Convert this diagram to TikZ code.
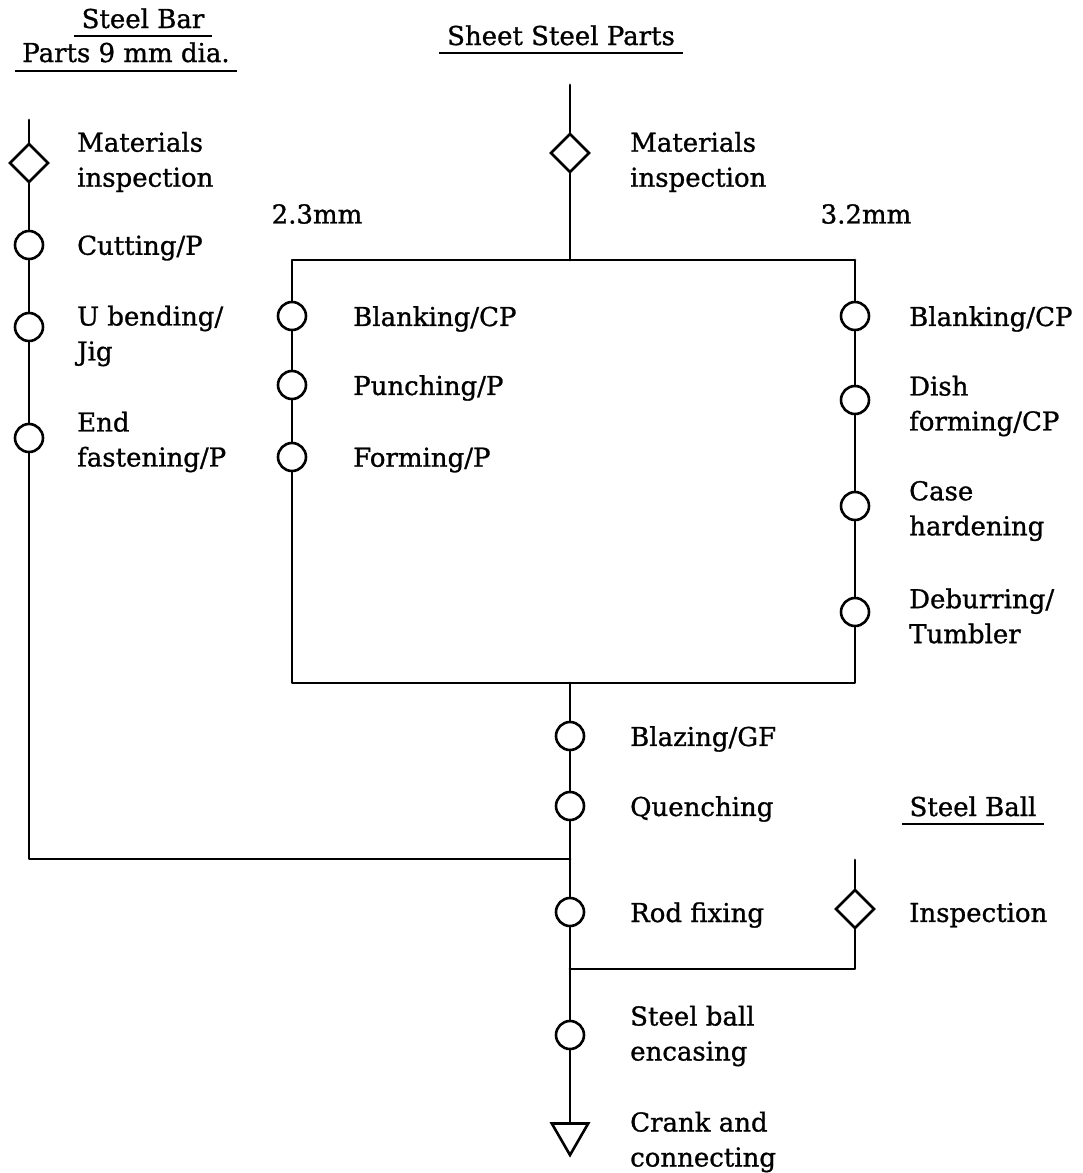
\documentclass[tikz,border=0pt]{standalone}
\usepackage{fontspec}
\setmainfont[FakeBold=1]{DejaVu Serif}
\usetikzlibrary{shapes.geometric}
\begin{document}
\begin{tikzpicture}[x=1pt,y=-1pt,
  every node/.style={font=\fontsize{26}{35}\selectfont},
  flow/.style={line width=2.8pt,line cap=round,line join=round},
  op/.style={circle,draw,line width=2.6pt,minimum size=28pt,inner sep=0pt,fill=white},
  insp/.style={diamond,draw,line width=2.6pt,minimum width=39pt,minimum height=39pt,inner sep=0pt,fill=white},
  store/.style={regular polygon,regular polygon sides=3,shape border rotate=180,draw,line width=2.6pt,minimum size=42pt,inner sep=0pt,fill=white},
  lbl/.style={anchor=west,align=left,inner sep=0pt},
  hdr/.style={anchor=base,inner sep=0pt},
  rule/.style={line width=2.2pt}]
\useasboundingbox (0,0) rectangle (1083,1173);

% headings
\node[hdr] (hbar) at (143,28) {Steel Bar};
\node[hdr] (hbar2) at (126,62) {Parts 9 mm dia.};
\node[hdr] (hsheet) at (561,45) {Sheet Steel Parts};
\node[hdr] (hball) at (973,816) {Steel Ball};
\draw[rule] ([shift={(-7,8)}]hbar.base west) -- ([shift={(7,8)}]hbar.base east);
\draw[rule] ([shift={(-7,9)}]hbar2.base west) -- ([shift={(7,9)}]hbar2.base east);
\draw[rule] ([shift={(-8,8)}]hsheet.base west) -- ([shift={(8,8)}]hsheet.base east);
\draw[rule] ([shift={(-7,8)}]hball.base west) -- ([shift={(7,8)}]hball.base east);

% steel bar line
\coordinate (Ltop) at (29,120);
\node[insp] (Lmi) at (29,163) {};
\node[op] (Lcut) at (29,245) {};
\node[op] (Lub) at (29,327) {};
\node[op] (Lef) at (29,438) {};
\coordinate (Lbot) at (29,859);

% sheet steel line
\coordinate (Mtop) at (570,85);
\node[insp] (Mmi) at (570,153) {};
\coordinate (Mjoin) at (570,260);
\coordinate (BL) at (292,260);
\coordinate (BR) at (855,260);
\coordinate (BLb) at (292,683);
\coordinate (BRb) at (855,683);
\coordinate (Mout) at (570,683);
\node[op] (A1) at (292,316) {};
\node[op] (A2) at (292,385) {};
\node[op] (A3) at (292,457) {};
\node[op] (R1) at (855,316) {};
\node[op] (R2) at (855,400) {};
\node[op] (R3) at (855,506) {};
\node[op] (R4) at (855,612) {};

% assembly line
\node[op] (Blaz) at (570,736) {};
\node[op] (Quen) at (570,806) {};
\coordinate (J1) at (570,859);
\node[op] (Rod) at (570,912) {};
\coordinate (J2) at (570,969);
\node[op] (Enc) at (570,1035) {};
\node[store] (Tri) at (570,1134) {};

% steel ball line
\coordinate (Btop) at (855,860);
\node[insp] (Bmi) at (855,909) {};
\coordinate (Bcorner) at (855,969);

% connectors
\draw[flow] (Ltop) -- (Lmi) -- (Lcut) -- (Lub) -- (Lef) -- (Lbot) -- (J1);
\draw[flow] (Mtop) -- (Mmi) -- (Mjoin);
\draw[flow] (BR) -- (BL) -- (A1) -- (A2) -- (A3) -- (BLb) -- (BRb) -- (R4) -- (R3) -- (R2) -- (R1) -- (BR);
\draw[flow] (Mout) -- (Blaz) -- (Quen) -- (J1) -- (Rod) -- (J2) -- (Enc) -- (Tri);
\draw[flow] (Btop) -- (Bmi) -- (Bcorner) -- (J2);

% labels
\node[lbl] (tLmi) at (77,162) {Materials\\inspection};
\node[lbl] (tLcut) at (77,248) {Cutting/P};
\node[lbl] (tLub) at (77,336) {U bending/\\Jig};
\node[lbl] (tLef) at (77,442) {End\\fastening/P};
\node[lbl] (tMmi) at (630,162) {Materials\\inspection};
\node (t23) at (317,214) {2.3mm};
\node (t32) at (866,214) {3.2mm};
\node[lbl] (tA1) at (353,319) {Blanking/CP};
\node[lbl] (tA2) at (353,388) {Punching/P};
\node[lbl] (tA3) at (353,460) {Forming/P};
\node[lbl] (tR1) at (909,319) {Blanking/CP};
\node[lbl] (tR2) at (909,406) {Dish\\forming/CP};
\node[lbl] (tR3) at (909,511) {Case\\hardening};
\node[lbl] (tR4) at (909,616) {Deburring/\\Tumbler};
\node[lbl] (tBlaz) at (630,739) {Blazing/GF};
\node[lbl] (tQuen) at (630,809) {Quenching};
\node[lbl] (tRod) at (630,915) {Rod fixing};
\node[lbl] (tBmi) at (909,915) {Inspection};
\node[lbl] (tEnc) at (630,1036) {Steel ball\\encasing};
\node[lbl] (tTri) at (630,1142) {Crank and\\connecting};
\end{tikzpicture}
\end{document}
